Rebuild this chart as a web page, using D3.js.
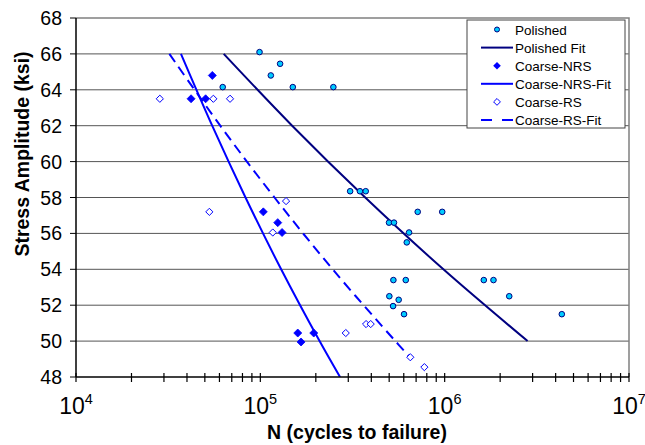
<!DOCTYPE html>
<html><head><meta charset="utf-8">
<script src="https://cdn.jsdelivr.net/npm/d3@7/dist/d3.min.js"></script>
<style>body{margin:0;background:#fff}svg{display:block}text{font-family:"Liberation Sans",Arial,sans-serif}</style>
</head><body>
<svg id="c" width="645" height="445"></svg>
<script>
// ---- data ----
const polishedN = [99000,114000,128000,62500,150000,249000,307000,347000,373000,714000,970000,499000,531000,641000,623000,527000,615000,1630000,1840000,2240000,501000,563000,525000,602000,4320000];
const polishedS = [66.1,64.8,65.45,64.15,64.15,64.15,58.35,58.35,58.35,57.2,57.2,56.6,56.6,56.05,55.5,53.4,53.4,53.4,53.4,52.5,52.5,52.3,51.95,51.5,51.5];
const nrsN = [54900,42100,50500,103800,124300,131200,159600,166300,194900];
const nrsS = [64.8,63.5,63.5,57.2,56.6,56.05,50.45,49.95,50.45];
const rsN = [28500,55600,68500,52900,137900,116800,290700,374700,397000,651000,776000];
const rsS = [63.5,63.5,63.5,57.2,57.8,56.05,50.45,50.95,50.95,49.1,48.55];
const polishedFitN = [63300,148800,370800,984000,2817000];
const polishedFitS = [66,62,58,54,50];
const nrsFitN = [37100,54800,83100,129700,209600,270600];
const nrsFitS = [66,62,58,54,50,48];
const rsFitN = [32100,60600,119400,246800,540200,663000];
const rsFitS = [66,62,58,54,50,49];
const yTicks = [48,50,52,54,56,58,60,62,64,66,68];
const xMajorExp = [4,5,6,7];
const legendLabels = ["Polished","Polished Fit","Coarse-NRS","Coarse-NRS-Fit","Coarse-RS","Coarse-RS-Fit"];

// ---- layout ----
const L=76, R=629, T=18, B=377;
const svg = d3.select("#c");
const x = d3.scaleLog().domain([1e4,1e7]).range([L,R]);
const y = d3.scaleLinear().domain([48,68]).range([B,T]);
const zip = (a,b)=>a.map((v,i)=>[v,b[i]]);

// gridlines
svg.append("g").selectAll("line").data(yTicks.filter(d=>d>48&&d<68)).join("line")
  .attr("x1",L).attr("x2",R).attr("y1",d=>y(d)).attr("y2",d=>y(d))
  .attr("stroke","#555").attr("stroke-width",1);
// top and right border
svg.append("path").attr("d",`M${L},${T}H${R}V${B}`).attr("fill","none").attr("stroke","#808080").attr("stroke-width",1.5);

// clip
svg.append("clipPath").attr("id","pc").append("rect").attr("x",L).attr("y",T).attr("width",R-L).attr("height",B-T);

// fits
const line = d3.line().x(d=>x(d[0])).y(d=>y(d[1])).curve(d3.curveCatmullRom);
const fits = svg.append("g").attr("clip-path","url(#pc)");
fits.append("path").attr("d",line(zip(polishedFitN,polishedFitS))).attr("fill","none").attr("stroke","#000080").attr("stroke-width",2);
fits.append("path").attr("d",line(zip(nrsFitN,nrsFitS))).attr("fill","none").attr("stroke","#0000FF").attr("stroke-width",2);
fits.append("path").attr("d",line(zip(rsFitN,rsFitS))).attr("fill","none").attr("stroke","#0000FF").attr("stroke-width",2).attr("stroke-dasharray","10,6");

// points
const diamond = (cx,cy,r)=>`M${cx},${cy-r}L${cx+r},${cy}L${cx},${cy+r}L${cx-r},${cy}Z`;
svg.append("g").selectAll("path").data(zip(rsN,rsS)).join("path")
  .attr("d",d=>diamond(x(d[0]),y(d[1]),3.6)).attr("fill","#fff").attr("stroke","#0000FF").attr("stroke-width",1);
svg.append("g").selectAll("path").data(zip(nrsN,nrsS)).join("path")
  .attr("d",d=>diamond(x(d[0]),y(d[1]),4)).attr("fill","#0000FF").attr("stroke","#0000FF").attr("stroke-width",0.8);
svg.append("g").selectAll("circle").data(zip(polishedN,polishedS)).join("circle")
  .attr("cx",d=>x(d[0])).attr("cy",d=>y(d[1])).attr("r",2.8)
  .attr("fill","#00CCFF").attr("stroke","#000080").attr("stroke-width",1);

// y axis
const ya = svg.append("g");
ya.append("line").attr("x1",L).attr("x2",L).attr("y1",T).attr("y2",B).attr("stroke","#000").attr("stroke-width",1.5);
ya.selectAll("line.t").data(yTicks).join("line").attr("class","t")
  .attr("x1",L-6).attr("x2",L).attr("y1",d=>y(d)).attr("y2",d=>y(d)).attr("stroke","#000");
ya.selectAll("text").data(yTicks).join("text")
  .attr("x",L-14).attr("y",d=>y(d)+7).attr("text-anchor","end").attr("font-size",19.5).text(d=>d);

// x axis
const xa = svg.append("g");
xa.append("line").attr("x1",L).attr("x2",R).attr("y1",B).attr("y2",B).attr("stroke","#000").attr("stroke-width",1.5);
const xTickVals = [];
for (let e=4;e<7;e++) for (let m=1;m<10;m++) xTickVals.push(m*Math.pow(10,e));
xTickVals.push(1e7);
xa.selectAll("line.t").data(xTickVals).join("line").attr("class","t")
  .attr("x1",d=>x(d)).attr("x2",d=>x(d)).attr("y1",B-4).attr("y2",B+5).attr("stroke","#000").attr("stroke-width",1.2);
const xl = xa.selectAll("text").data(xMajorExp).join("text")
  .attr("x",d=>x(Math.pow(10,d))).attr("y",414).attr("text-anchor","middle").attr("font-size",23);
xl.append("tspan").text("10");
xl.append("tspan").attr("font-size",14.5).attr("dy",-10).text(d=>d);

// titles
svg.append("text").attr("x",357).attr("y",439).attr("text-anchor","middle").attr("font-size",19.5).attr("font-weight","bold").text("N (cycles to failure)");
svg.append("text").attr("transform","translate(29,154) rotate(-90)").attr("text-anchor","middle").attr("font-size",19.5).attr("font-weight","bold").text("Stress Amplitude (ksi)");

// legend
const lg = svg.append("g");
lg.append("rect").attr("x",467).attr("y",20).attr("width",158).attr("height",108).attr("fill","#fff").attr("stroke","#444").attr("stroke-width",1);
const ly = i=>29.5+i*18.1;
const sx = 497;
lg.selectAll("text").data(legendLabels).join("text").attr("x",515).attr("y",(d,i)=>ly(i)+5).attr("font-size",13.5).text(d=>d);
lg.append("circle").attr("cx",sx).attr("cy",ly(0)).attr("r",2.5).attr("fill","#00CCFF").attr("stroke","#000080");
lg.append("line").attr("x1",481).attr("x2",513).attr("y1",ly(1)).attr("y2",ly(1)).attr("stroke","#000080").attr("stroke-width",2);
lg.append("path").attr("d",diamond(sx,ly(2),3.8)).attr("fill","#0000FF");
lg.append("line").attr("x1",481).attr("x2",513).attr("y1",ly(3)).attr("y2",ly(3)).attr("stroke","#0000FF").attr("stroke-width",2);
lg.append("path").attr("d",diamond(sx,ly(4),3.4)).attr("fill","#fff").attr("stroke","#0000FF");
lg.append("line").attr("x1",481).attr("x2",513).attr("y1",ly(5)).attr("y2",ly(5)).attr("stroke","#0000FF").attr("stroke-width",2).attr("stroke-dasharray","11,10");
</script>
</body></html>
